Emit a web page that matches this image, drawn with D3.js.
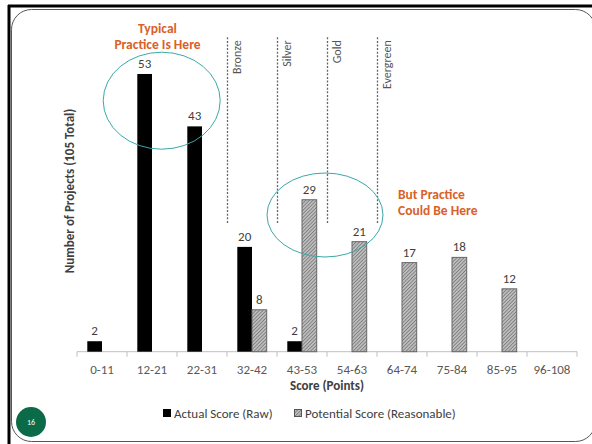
<!DOCTYPE html>
<html>
<head>
<meta charset="utf-8">
<script src="https://cdn.jsdelivr.net/npm/d3@7/dist/d3.min.js"></script>
<style>
  html, body { margin: 0; padding: 0; background: #fff; }
  svg { display: block; font-family: Carlito, Lato, "Liberation Sans", sans-serif; }
</style>
</head>
<body>
<svg id="chart" width="592" height="444"></svg>
<script>
// Score bands and project counts
const categories = ["0-11", "12-21", "22-31", "32-42", "43-53", "54-63", "64-74", "75-84", "85-95", "96-108"];
const actualScores = [2, 53, 43, 20, 2, 0, 0, 0, 0, 0];
const potentialScores = [0, 0, 0, 8, 29, 21, 17, 18, 12, 0];
const seriesNames = ["Actual Score (Raw)", "Potential Score (Reasonable)"];
const levelNames = ["Bronze", "Silver", "Gold", "Evergreen"];
// certification thresholds fall on the boundaries before these bands
const levelBands = ["32-42", "43-53", "54-63", "64-74"];

const svg = d3.select("#chart");

// slide frame
svg.append("rect").attr("x", 11.5).attr("y", 9.5).attr("width", 584).attr("height", 432)
  .attr("rx", 20).attr("fill", "none").attr("stroke", "#555").attr("stroke-width", 1);
svg.append("line").attr("x1", 8).attr("x2", 592).attr("y1", 6).attr("y2", 6)
  .attr("stroke", "#000").attr("stroke-width", 3);
svg.append("line").attr("x1", 9).attr("x2", 9).attr("y1", 5).attr("y2", 444)
  .attr("stroke", "#000").attr("stroke-width", 3);

// hatch pattern for potential bars
const defs = svg.append("defs");
const pat = defs.append("pattern").attr("id", "hatch").attr("patternUnits", "userSpaceOnUse")
  .attr("width", 2.5).attr("height", 2.5).attr("patternTransform", "rotate(45)");
pat.append("rect").attr("width", 2.5).attr("height", 2.5).attr("fill", "#bdbdbd");
pat.append("line").attr("x1", 0).attr("y1", 0).attr("x2", 0).attr("y2", 2.5)
  .attr("stroke", "#5a5a5a").attr("stroke-width", 1.1);

const p = 0.412;
const x = d3.scaleBand().domain(categories).range([77, 577]).paddingInner(p).paddingOuter(p / 2);
const xs = d3.scaleBand().domain([0, 1]).range([0, x.bandwidth()]);
const y = d3.scaleLinear().domain([0, 60]).range([351.7, 37.3]);
const gap = x.step() * p / 2;

// certification level dividers
levelBands.forEach((b, i) => {
  const lx = Math.round(x(b) - gap) + 0.5;
  svg.append("line").attr("x1", lx).attr("x2", lx).attr("y1", y(60)).attr("y2", y(24.5))
    .attr("stroke", "#666").attr("stroke-width", 1.3).attr("stroke-dasharray", "2,1.6");
  svg.append("text").attr("transform", `translate(${lx + 13},${y(60) + 3}) rotate(-90)`)
    .attr("text-anchor", "end").attr("font-size", 12).attr("fill", "#555").text(levelNames[i]);
});

// axis line and band boundary ticks
const axisY = y(0);
svg.append("line").attr("x1", 77).attr("x2", 577).attr("y1", axisY).attr("y2", axisY)
  .attr("stroke", "#bfbfbf").attr("stroke-width", 1);
const bounds = categories.map(c => x(c) - gap).concat([x(categories[9]) + x.bandwidth() + gap]);
svg.selectAll("line.tick").data(bounds).enter().append("line").attr("class", "tick")
  .attr("x1", d => d).attr("x2", d => d).attr("y1", axisY).attr("y2", axisY + 5)
  .attr("stroke", "#bfbfbf");
svg.selectAll("text.cat").data(categories).enter().append("text").attr("class", "cat")
  .attr("x", d => x(d) + x.bandwidth() / 2).attr("y", 374)
  .attr("text-anchor", "middle").attr("font-size", 13).attr("fill", "#595959").text(d => d);

// bars
const rows = categories.map((c, i) => ({ c, a: actualScores[i], pt: potentialScores[i] }));
const g = svg.append("g");
rows.forEach(r => {
  [[r.a, 0], [r.pt, 1]].forEach(([v, s]) => {
    if (!v) return;
    const bx = x(r.c) + xs(s);
    g.append("rect").attr("x", bx).attr("y", y(v)).attr("width", xs.bandwidth())
      .attr("height", y(0) - y(v))
      .attr("fill", s === 0 ? "#000" : "url(#hatch)")
      .attr("stroke", s === 0 ? "#000" : "#666").attr("stroke-width", s === 0 ? 0 : 1);
    g.append("text").attr("x", bx + xs.bandwidth() / 2).attr("y", y(v) - 6)
      .attr("text-anchor", "middle").attr("font-size", 13).attr("fill", "#404040").text(v);
  });
});

// axis titles
svg.append("text").attr("x", 327).attr("y", 390).attr("text-anchor", "middle")
  .attr("font-size", 13).attr("font-weight", "bold").attr("fill", "#404040").text("Score (Points)");
svg.append("text").attr("transform", "translate(74,191) rotate(-90)").attr("text-anchor", "middle")
  .attr("font-size", 13).attr("font-weight", "bold").attr("fill", "#404040")
  .text("Number of Projects (105 Total)");

// legend
svg.append("rect").attr("x", 163).attr("y", 409).attr("width", 8).attr("height", 8).attr("fill", "#000");
svg.append("text").attr("x", 174).attr("y", 418).attr("font-size", 13).attr("fill", "#404040").text(seriesNames[0]);
svg.append("rect").attr("x", 294.5).attr("y", 409.5).attr("width", 7).attr("height", 7)
  .attr("fill", "url(#hatch)").attr("stroke", "#555");
svg.append("text").attr("x", 305).attr("y", 418).attr("font-size", 13).attr("fill", "#404040").text(seriesNames[1]);

// callouts
const orange = "#d9612a";
const teal = "#3aa8a8";
svg.append("ellipse").attr("cx", 161.7).attr("cy", 100.7).attr("rx", 58.5).attr("ry", 48.5)
  .attr("fill", "none").attr("stroke", teal).attr("stroke-width", 1);
svg.append("ellipse").attr("cx", 325).attr("cy", 215).attr("rx", 58).attr("ry", 42)
  .attr("fill", "none").attr("stroke", teal).attr("stroke-width", 1);
const t1 = svg.append("text").attr("text-anchor", "middle").attr("font-size", 13.5)
  .attr("font-weight", "bold").attr("fill", orange);
t1.append("tspan").attr("x", 157.5).attr("y", 33).text("Typical");
t1.append("tspan").attr("x", 157.5).attr("y", 49).text("Practice Is Here");
const t2 = svg.append("text").attr("font-size", 13.5).attr("font-weight", "bold").attr("fill", orange);
t2.append("tspan").attr("x", 398).attr("y", 199).text("But Practice");
t2.append("tspan").attr("x", 398).attr("y", 215).text("Could Be Here");

// slide number badge
svg.append("circle").attr("cx", 31).attr("cy", 422).attr("r", 15).attr("fill", "#0b6b48");
svg.append("text").attr("x", 31).attr("y", 425).attr("text-anchor", "middle")
  .attr("font-size", 8).attr("fill", "#fff").text("16");
</script>
</body>
</html>
